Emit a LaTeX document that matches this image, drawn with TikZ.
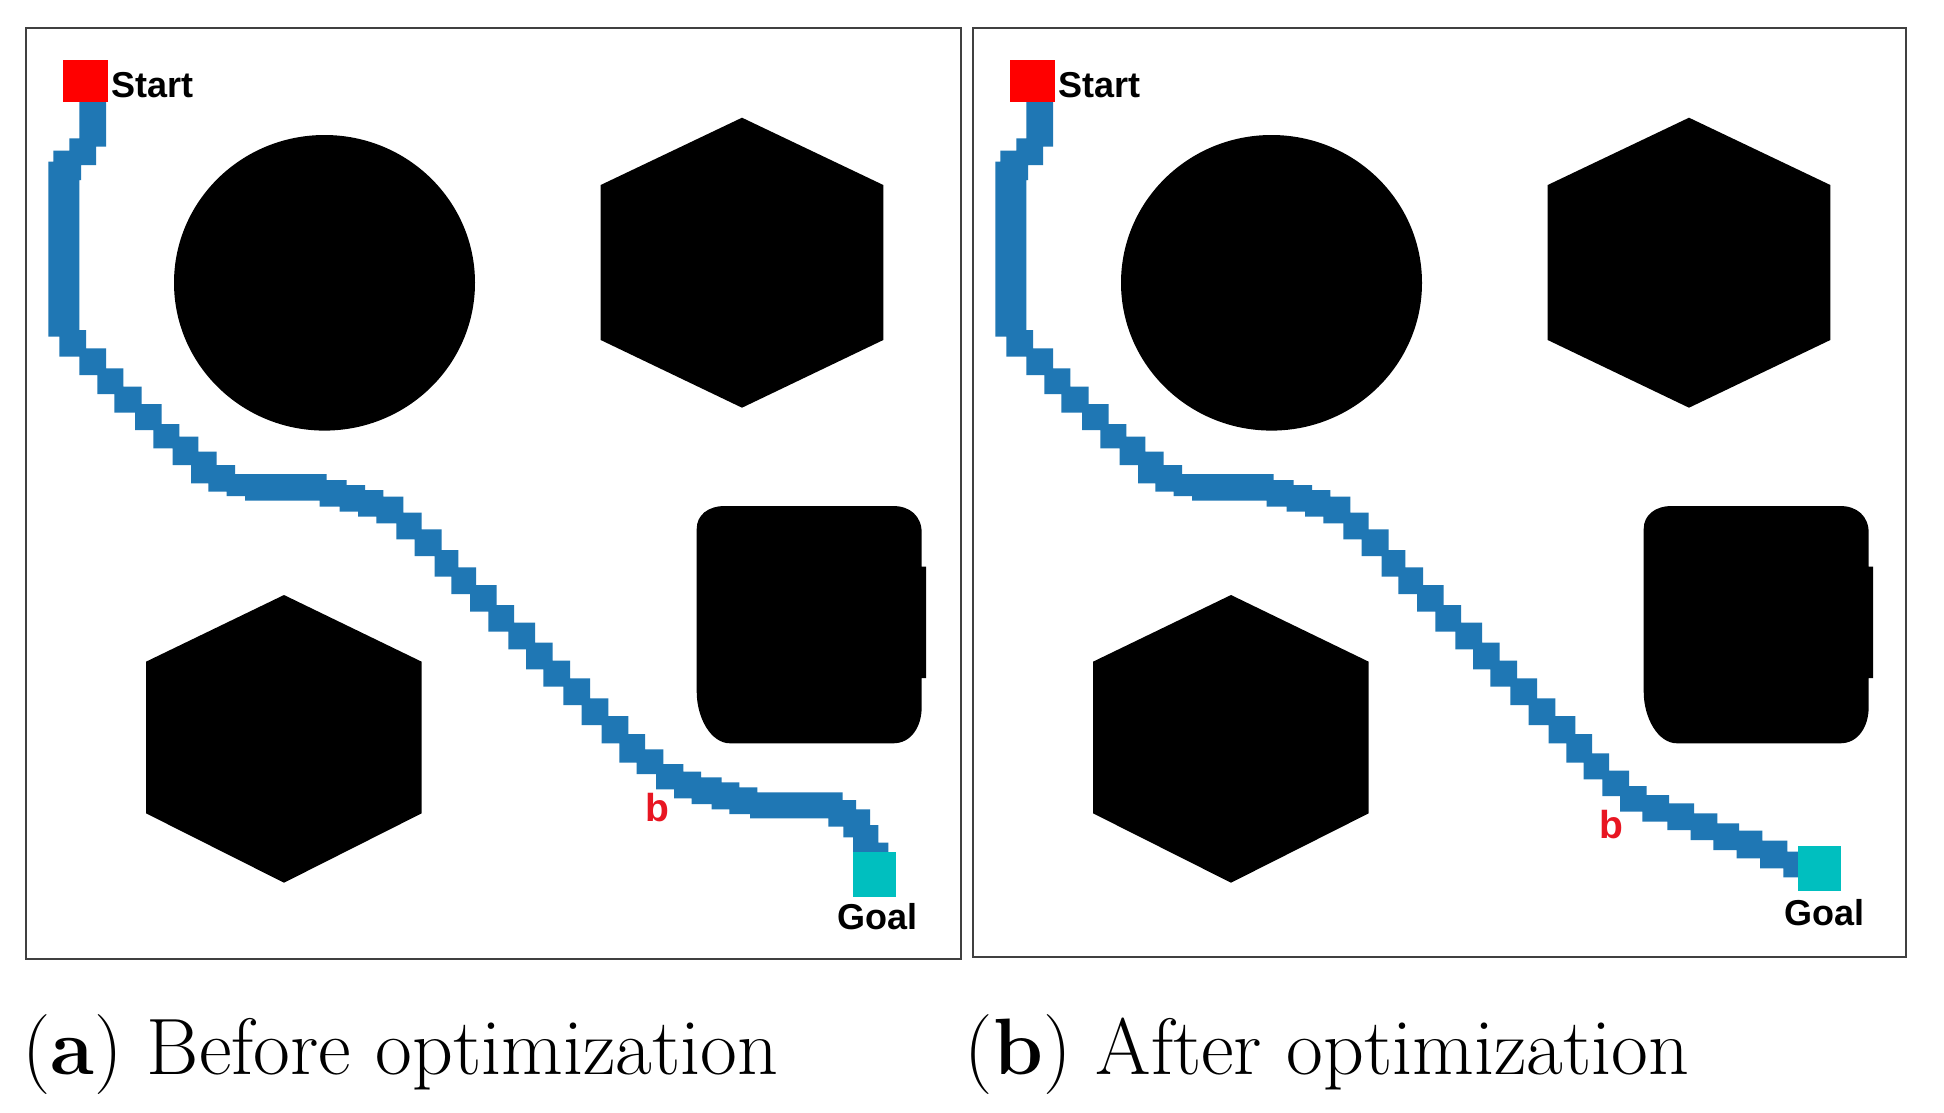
\documentclass[tikz,border=0pt]{standalone}
\usepackage{fontspec}
\newfontfamily\labelfont{Liberation Sans}
\definecolor{pathblue}{RGB}{31,119,180}
\definecolor{startred}{RGB}{255,0,0}
\definecolor{goalteal}{RGB}{0,191,191}
\definecolor{bred}{RGB}{232,22,34}
\definecolor{framegray}{RGB}{64,64,64}
\newcommand\drawobstacles{%
  \fill[black] (324.5,282.8) ellipse [x radius=150.5pt, y radius=147.8pt];
  \fill[black] (742,117.7) -- (883.3,185) -- (883.3,340) -- (742,407.7) -- (600.7,340) -- (600.7,185) -- cycle;
  \fill[black] (284,595) -- (421.7,661.7) -- (421.7,813.3) -- (284,882.7) -- (146,813.3) -- (146,661.7) -- cycle;
  \fill[black] (725,506) -- (893,506) .. controls (910,506) and (921.7,516) .. (921.7,533) -- (921.7,566.7) -- (926,566.7) -- (926,678) -- (921.7,678) -- (921.7,706.7) .. controls (921.7,727) and (911,743.3) .. (893.3,743.3) -- (730,743.3) .. controls (711,743.3) and (696.7,718) .. (696.7,691.7) -- (696.7,529) .. controls (696.7,515) and (708,506) .. (725,506) -- cycle;
}
\begin{document}
\begin{tikzpicture}[x=1pt,y=-1pt,
  lab/.style={font=\labelfont\bfseries\fontsize{36}{40}\selectfont, inner sep=0pt},
  blab/.style={font=\labelfont\bfseries\fontsize{39}{44}\selectfont, inner sep=0pt, text=bred},
  startbox/.style={fill=startred, draw=none, minimum width=45pt, minimum height=41.7pt, inner sep=0pt},
  goalbox/.style={fill=goalteal, draw=none, minimum width=43.3pt, minimum height=45pt, inner sep=0pt},
  frame/.style={draw=framegray, line width=2.2pt},
  caption/.style={font=\fontsize{80}{88}\selectfont, inner sep=0pt, anchor=base west}]
\useasboundingbox[fill=white] (0,0) rectangle (1944,1112);

% ---------------- left panel ----------------
\drawobstacles
\fill[pathblue] (106,98) -- (106,146.7) -- (96,146.7) -- (96,165) -- (81,165) -- (81,180) -- (79.3,180) -- (79.3,330) -- (86,330) -- (86,348.3) -- (106,348.3) -- (106,368.3) -- (123.3,368.3) -- (123.3,386.7) -- (141.7,386.7) -- (141.7,404) -- (161.7,404) -- (161.7,424) -- (179.3,424) -- (179.3,436.7) -- (198.3,436.7) -- (198.3,451.7) -- (216.7,451.7) -- (216.7,465) -- (235,465) -- (235,474) -- (326.7,474) -- (326.7,480) -- (346.7,480) -- (346.7,485) -- (365,485) -- (365,490) -- (383.3,490) -- (383.3,496.7) -- (403.3,496.7) -- (403.3,512.7) -- (421.7,512.7) -- (421.7,529.3) -- (441.7,529.3) -- (441.7,550) -- (458.3,550) -- (458.3,567.3) -- (476,567.3) -- (476,585) -- (496.7,585) -- (496.7,605) -- (514,605) -- (514,622.7) -- (535,622.7) -- (535,642.7) -- (552.7,642.7) -- (552.7,660.7) -- (570,660.7) -- (570,678.3) -- (590,678.3) -- (590,698.3) -- (608.3,698.3) -- (608.3,716) -- (628.3,716) -- (628.3,734) -- (645,734)
 -- (645,749.3) -- (663.3,749.3) -- (663.3,764) -- (683.3,764) -- (683.3,771.7) -- (701,771.7) -- (701,777.3) -- (721.7,777.3) -- (721.7,782.3) -- (739.3,782.3) -- (739.3,787.3) -- (757.3,787.3) -- (757.3,792.3) -- (842.7,792.3) -- (842.7,800) -- (856,800) -- (856,809.3) -- (870,809.3) -- (870,825) -- (878.3,825) -- (878.3,842.7) -- (888.3,842.7) -- (888.3,860)
 -- (853,860) -- (853,837.3) -- (843.3,837.3) -- (843.3,826.7) -- (828.3,826.7) -- (828.3,818.3) -- (750,818.3) -- (750,814) -- (729.3,814) -- (729.3,809.3) -- (711.7,809.3) -- (711.7,804) -- (691.7,804) -- (691.7,798.3) -- (674,798.3) -- (674,789.3) -- (656,789.3) -- (656,774) -- (636.7,774) -- (636.7,762.7) -- (619.3,762.7)
 -- (619.3,743.3) -- (601.7,743.3) -- (601.7,725) -- (581.7,725) -- (581.7,705) -- (563.3,705) -- (563.3,686.7) -- (543.3,686.7) -- (543.3,669.3) -- (526,669.3) -- (526,649.3) -- (508.3,649.3) -- (508.3,631.7) -- (488.3,631.7) -- (488.3,611.7) -- (470,611.7) -- (470,594) -- (451.3,594) -- (451.3,576.7) -- (434.7,576.7) -- (434.7,556) -- (414.7,556) -- (414.7,539.4) -- (396.3,539.4) -- (396.3,523.4) -- (376.3,523.4) -- (376.3,516.7) -- (358,516.7) -- (358,511.7) -- (339.7,511.7) -- (339.7,506.7) -- (319.7,506.7) -- (319.7,500.7) -- (245,500.7) -- (245,496) -- (226.7,496) -- (226.7,491.7) -- (208.3,491.7) -- (208.3,483.3) -- (191,483.3) -- (191,465) -- (172.7,465) -- (172.7,448.3) -- (153.3,448.3) -- (153.3,430) -- (135,430) -- (135,412.7) -- (114.3,412.7) -- (114.3,394) -- (97.3,394) -- (97.3,375) -- (79.3,375) -- (79.3,356.7) -- (59.3,356.7) -- (59.3,336.7) -- (48.3,336.7) -- (48.3,161.7) -- (53.3,161.7) -- (53.3,150.7) -- (69.3,150.7) -- (69.3,138.3) -- (79.3,138.3) -- (79.3,98) -- cycle;
\node[startbox] (startA) at (85.8,80.8) {};
\node[goalbox] (goalA) at (874.3,874.5) {};
\node[lab, anchor=base west] (startlabA) at (111,97.3) {Start};
\node[lab, anchor=base] (goallabA) at (877.6,929.3) {Goal};
\node[blab, anchor=base west] (blabA) at (645,821.7) {b};
\draw[frame] (26,28.3) rectangle (960.7,959.3);

% ---------------- right panel ----------------
\begin{scope}[xshift=947pt]
\drawobstacles
\fill[pathblue] (106,98) -- (106,146.7) -- (96,146.7) -- (96,165) -- (81,165) -- (81,180) -- (79.3,180) -- (79.3,330) -- (86,330) -- (86,348.3) -- (106,348.3) -- (106,368.3) -- (123.3,368.3) -- (123.3,386.7) -- (141.7,386.7) -- (141.7,404) -- (161.7,404) -- (161.7,424) -- (179.3,424) -- (179.3,436.7) -- (198.3,436.7) -- (198.3,451.7) -- (216.7,451.7) -- (216.7,465) -- (235,465) -- (235,474) -- (326.7,474) -- (326.7,480) -- (346.7,480) -- (346.7,485) -- (365,485) -- (365,490) -- (383.3,490) -- (383.3,496.7) -- (403.3,496.7) -- (403.3,512.7) -- (421.7,512.7) -- (421.7,529.3) -- (441.7,529.3) -- (441.7,550) -- (458.3,550) -- (458.3,567.3) -- (476,567.3) -- (476,585) -- (496.7,585) -- (496.7,605) -- (514,605) -- (514,622.7) -- (535,622.7) -- (535,642.7) -- (552.7,642.7) -- (552.7,660.7) -- (570,660.7) -- (570,678.3) -- (590,678.3) -- (590,698.3) -- (608.3,698.3) -- (608.3,716) -- (628.3,716) -- (628.3,734) -- (645,734)
 -- (645,753.3) -- (662,753.3) -- (662,770.7) -- (682,770.7) -- (682,786) -- (699.7,786) -- (699.7,795) -- (722,795) -- (722,803.3) -- (747,803.3) -- (747,813.3) -- (770.3,813.3) -- (770.3,823.3) -- (792,823.3) -- (792,830.7) -- (815.3,830.7) -- (815.3,840.7) -- (840.3,840.7) -- (840.3,851.7) -- (860,851.7) -- (860,877.3)
 -- (836.3,877.3) -- (836.3,868.3) -- (813,868.3) -- (813,858.3) -- (789.7,858.3) -- (789.7,850) -- (766.3,850) -- (766.3,840) -- (743.7,840) -- (743.7,830) -- (720.3,830) -- (720.3,821.7) -- (695.3,821.7) -- (695.3,811.7) -- (673,811.7) -- (673,796) -- (655.3,796) -- (655.3,779.3) -- (636.7,779.3) -- (636.7,762.7) -- (619.3,762.7)
 -- (619.3,743.3) -- (601.7,743.3) -- (601.7,725) -- (581.7,725) -- (581.7,705) -- (563.3,705) -- (563.3,686.7) -- (543.3,686.7) -- (543.3,669.3) -- (526,669.3) -- (526,649.3) -- (508.3,649.3) -- (508.3,631.7) -- (488.3,631.7) -- (488.3,611.7) -- (470,611.7) -- (470,594) -- (451.3,594) -- (451.3,576.7) -- (434.7,576.7) -- (434.7,556) -- (414.7,556) -- (414.7,539.4) -- (396.3,539.4) -- (396.3,523.4) -- (376.3,523.4) -- (376.3,516.7) -- (358,516.7) -- (358,511.7) -- (339.7,511.7) -- (339.7,506.7) -- (319.7,506.7) -- (319.7,500.7) -- (245,500.7) -- (245,496) -- (226.7,496) -- (226.7,491.7) -- (208.3,491.7) -- (208.3,483.3) -- (191,483.3) -- (191,465) -- (172.7,465) -- (172.7,448.3) -- (153.3,448.3) -- (153.3,430) -- (135,430) -- (135,412.7) -- (114.3,412.7) -- (114.3,394) -- (97.3,394) -- (97.3,375) -- (79.3,375) -- (79.3,356.7) -- (59.3,356.7) -- (59.3,336.7) -- (48.3,336.7) -- (48.3,161.7) -- (53.3,161.7) -- (53.3,150.7) -- (69.3,150.7) -- (69.3,138.3) -- (79.3,138.3) -- (79.3,98) -- cycle;
\node[startbox] (startB) at (85.8,80.8) {};
\node[goalbox] (goalB) at (872.3,868) {};
\node[lab, anchor=base west] (startlabB) at (111,97.3) {Start};
\node[lab, anchor=base] (goallabB) at (877,925) {Goal};
\node[blab, anchor=base west] (blabB) at (652.7,838.3) {b};
\draw[frame] (26.3,28.3) rectangle (958.7,957.3);
\end{scope}

% ---------------- captions ----------------
\node[caption] (capA) at (22.3,1074) {(\textbf{a}) Before optimization};
\node[caption] (capB) at (964.6,1074) {(\textbf{b}) After optimization};
\end{tikzpicture}
\end{document}
